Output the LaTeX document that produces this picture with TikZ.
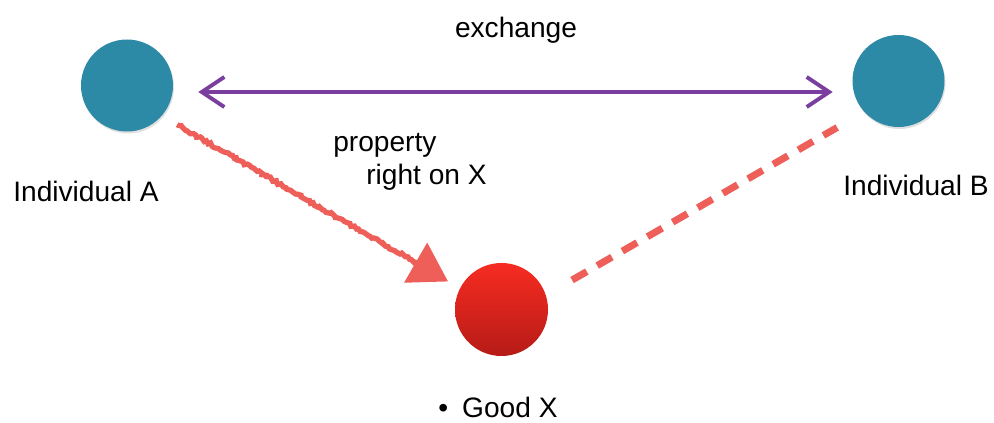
\documentclass[tikz,border=0pt]{standalone}
\usepackage{fontspec}
\setmainfont{Liberation Sans}
\usepackage{tikz}
\usetikzlibrary{positioning,arrows.meta,calc,decorations.pathmorphing,shadows}
\definecolor{personTeal}{HTML}{2C8AA7}
\definecolor{tradePurple}{HTML}{7A3F9E}
\definecolor{chalkRed}{HTML}{EE5F5A}
\definecolor{goodTop}{HTML}{F72C22}
\definecolor{goodBottom}{HTML}{B61B17}
\tikzset{
  person/.style={circle, minimum size=1.84cm, inner sep=0pt, fill=personTeal,
                 drop shadow={opacity=0.25, shadow xshift=0.02cm, shadow yshift=-0.04cm}},
  good/.style={circle, minimum size=1.86cm, inner sep=0pt, top color=goodTop, bottom color=goodBottom},
  caption/.style={font=\fontsize{16}{19}\selectfont, inner sep=0pt, text=black},
  trade/.style={{Straight Barb[length=4.5mm,width=6mm]}-{Straight Barb[length=4.5mm,width=6mm]},
                line width=2.2pt, draw=tradePurple},
  claim/.style={-{Triangle[length=7.5mm,width=9mm]}, line width=3pt, draw=chalkRed,
                decorate, decoration={random steps, segment length=1.5pt, amplitude=0.8pt,
                                      pre length=1pt, post length=4mm}},
  link/.style={line width=4pt, draw=chalkRed, dash pattern=on 0.34cm off 0.24cm}
}
\begin{document}
\begin{tikzpicture}
\useasboundingbox (0,0) rectangle (19.88,8.46);
\node[person] (a) at (2.54,6.75) {};
\node[person] (b) at (17.97,6.84) {};
\node[good] (goodx) at (10.03,2.27) {};

\node[caption, anchor=base] (exlabel) at (10.32,7.70) {exchange};
\node[caption, anchor=base] (alabel) at (1.72,4.43) {Individual A};
\node[caption, anchor=base] (blabel) at (18.32,4.54) {Individual B};
\node[caption, anchor=base west] (proplabel) at (6.66,5.42) {property};
\node[caption, anchor=base west] (rightlabel) at (7.32,4.76) {right on X};
\node[caption, anchor=base west] (xlabel) at (8.76,0.1) {\textbullet\hspace{0.28cm}Good X};

\draw[trade] ($(a.east)+(0.5,-0.13)$) -- ($(b.west)+(-0.39,-0.22)$);
\draw[claim] ($(a.-41)!0.35cm!(goodx.153)$) -- ($(goodx.153)!0.27cm!(a.-41)$);
\draw[link, shorten <=0.6cm, shorten >=0.62cm] (goodx.18) -- (b.222);
\end{tikzpicture}
\end{document}
